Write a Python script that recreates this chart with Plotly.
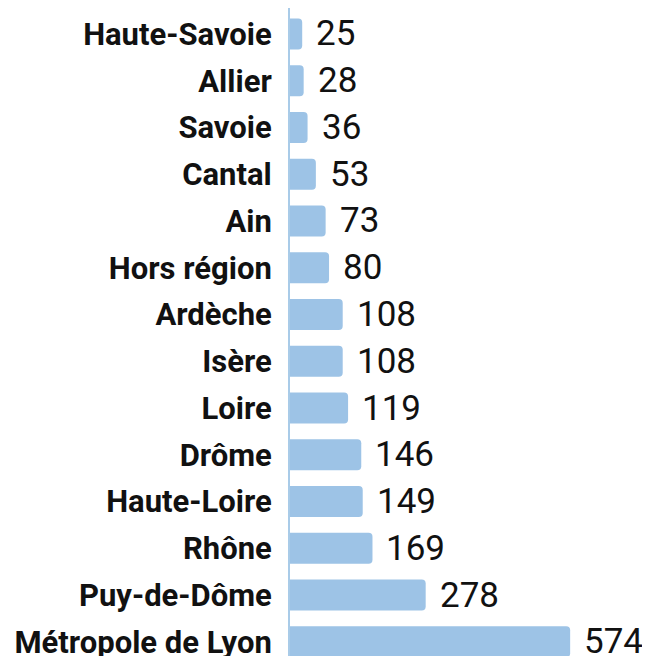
import plotly.graph_objects as go

categories = ["Haute-Savoie", "Allier", "Savoie", "Cantal", "Ain", "Hors région",
              "Ardèche", "Isère", "Loire", "Drôme", "Haute-Loire", "Rhône",
              "Puy-de-Dôme", "Métropole de Lyon"]
values = [25, 28, 36, 53, 73, 80, 108, 108, 119, 146, 149, 169, 278, 574]

cats = categories[::-1]
vals = values[::-1]

fig = go.Figure(go.Bar(
    x=vals, y=cats, orientation="h",
    marker=dict(color="#9dc3e6", line=dict(width=0)),
    hoverinfo="skip",
))

for c, v in zip(cats, vals):
    fig.add_annotation(x=v, y=c, text=str(v), showarrow=False,
                       xanchor="left", yanchor="middle", xshift=12,
                       font=dict(family="Roboto", size=35, color="#111111"))

fig.update_layout(
    width=650, height=656,
    margin=dict(l=282, r=0, t=0, b=0),
    plot_bgcolor="white", paper_bgcolor="white",
    bargap=0.34, barcornerradius=4,
    showlegend=False,
    xaxis=dict(range=[0, 754], visible=False, fixedrange=True),
    yaxis=dict(range=[-0.476, 13.556], type="category",
               categoryorder="array", categoryarray=cats,
               showline=True, linecolor="#a9cbe8", linewidth=2,
               showgrid=False, ticks="", ticklabelstandoff=10,
               tickfont=dict(family="Roboto", size=31, color="#111111", weight="bold")),
)

fig.write_html("out.html")
